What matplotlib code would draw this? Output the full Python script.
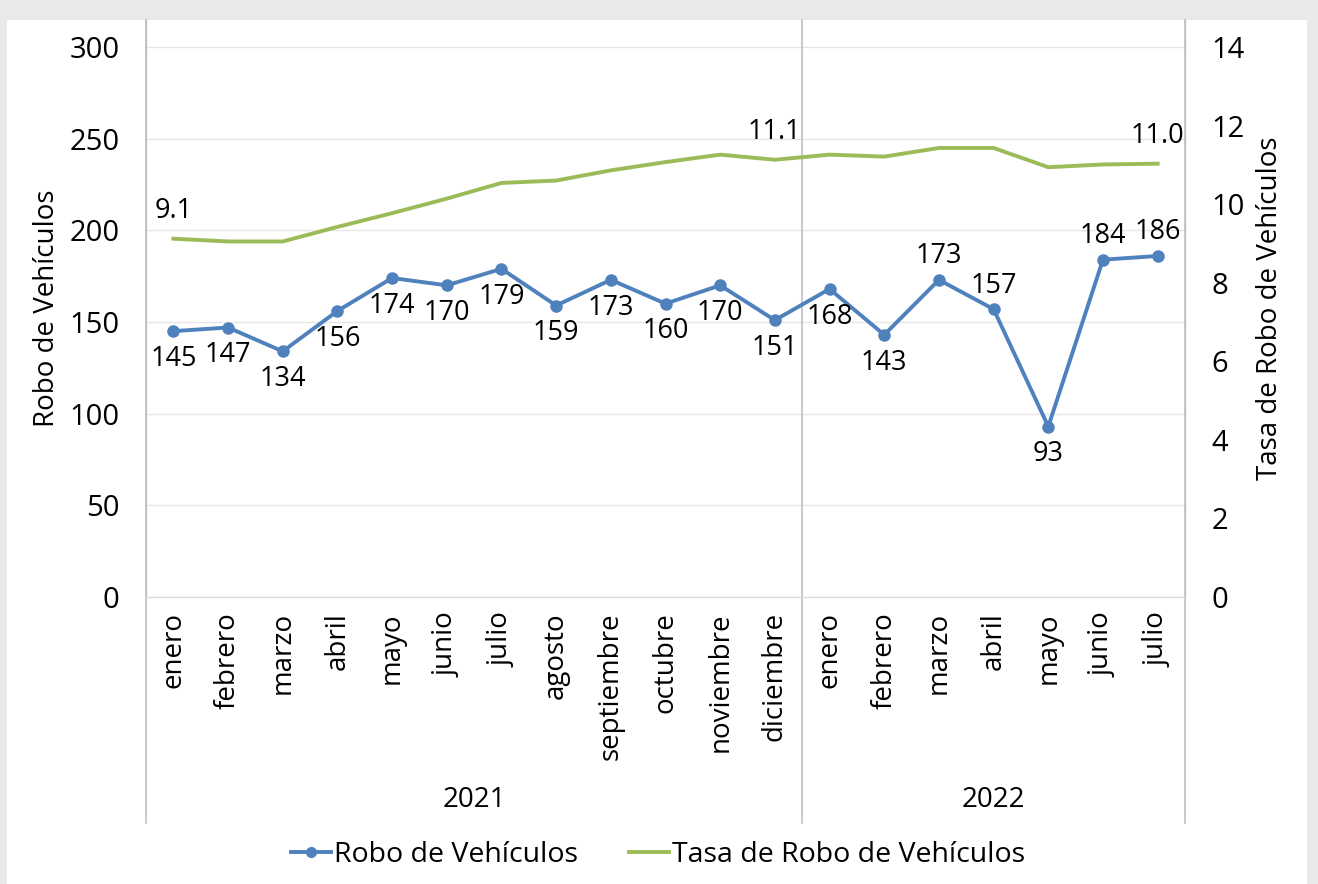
import matplotlib
matplotlib.use("Agg")
import matplotlib.pyplot as plt
from matplotlib.patches import Rectangle
from matplotlib.lines import Line2D
import numpy as np

# Datos.
meses = ["enero", "febrero", "marzo", "abril", "mayo", "junio", "julio",
         "agosto", "septiembre", "octubre", "noviembre", "diciembre",
         "enero", "febrero", "marzo", "abril", "mayo", "junio", "julio"]
anios = ["2021", "2022"]
meses_por_anio = [12, 7]

robo = [145, 147, 134, 156, 174, 170, 179, 159, 173, 160, 170, 151,
        168, 143, 173, 157, 93, 184, 186]
tasa = [9.12, 9.05, 9.05, 9.42, 9.77, 10.14, 10.54, 10.6, 10.86, 11.07,
        11.26, 11.13, 11.26, 11.21, 11.43, 11.43, 10.94, 11.01, 11.03]

# Etiquetas arriba (True) o abajo (False) de cada punto azul.
arriba = [False] * 14 + [True, True, False, True, True]
# Índices de la tasa que llevan etiqueta.
etiquetas_tasa = [0, 11, 18]

plt.rcParams["font.family"] = ["Open Sans", "DejaVu Sans"]
plt.rcParams["font.size"] = 20

azul = "#4F81BD"
verde = "#9BBB59"
gris = "#BFBFBF"

W, H = 1318, 884
fig = plt.figure(figsize=(W / 100, H / 100), dpi=100, facecolor="#E9E9E9")
fig.patches.append(Rectangle((7 / W, 0), 1300 / W, 1 - 20 / H,
                             transform=fig.transFigure, facecolor="white",
                             edgecolor="none", zorder=-5))

x0, x1, ytop, ybot = 146, 1185, 20, 597
ax = fig.add_axes([x0 / W, 1 - ybot / H, (x1 - x0) / W, (ybot - ytop) / H])
ax.set_facecolor("none")
esc = (ybot - ytop) / (ybot - 47)
ax.set_ylim(0, 300 * esc)
ax.set_xlim(-0.5, len(meses) - 0.5)
ax2 = ax.twinx()
ax2.set_facecolor("none")
ax2.set_ylim(0, 14 * esc)

x = np.arange(len(meses))

ax.set_yticks(range(0, 301, 50))
ax2.set_yticks(range(0, 15, 2))
ax.grid(axis="y", color="#E6E6E6", linewidth=1)
ax.set_axisbelow(True)
ax.set_xticks(x)
ax.set_xticklabels(meses, rotation=90)
ax.tick_params(axis="x", length=0, pad=11)
ax.tick_params(axis="y", length=0, pad=19, labelsize=21)
ax2.tick_params(axis="y", length=0, pad=19, labelsize=21)

for a in (ax, ax2):
    a.spines["top"].set_visible(False)
    a.spines["left"].set_color(gris)
    a.spines["right"].set_color(gris)
    a.spines["bottom"].set_color("#D9D9D9")

ax.set_ylabel("Robo de Vehículos", labelpad=6)
ax2.set_ylabel("Tasa de Robo de Vehículos", labelpad=8)

# Líneas de los grupos de años.
ybajo = (ybot - 823) / (ybot - ytop)
trans = ax.get_xaxis_transform()
limites = [-0.5]
for n in meses_por_anio:
    limites.append(limites[-1] + n)
for lim in limites:
    ax.plot([lim, lim], [ybajo, 1], color=gris, linewidth=1.2,
            transform=trans, clip_on=False, zorder=1)
yanio = (ybot - 800) / (ybot - ytop)
for i, anio in enumerate(anios):
    ax.text((limites[i] + limites[i + 1]) / 2, yanio, anio, transform=trans,
            ha="center", va="center")

ax2.plot(x, tasa, color=verde, linewidth=2.8, zorder=3)
ax.plot(x, robo, color=azul, linewidth=2.8, marker="o", markersize=8, zorder=3)

for i, v in enumerate(robo):
    dy = 17 if arriba[i] else -20
    ax.annotate(str(v), (x[i], v), xytext=(0, dy), textcoords="offset points",
                ha="center", va="center", fontsize=19.5)
for i in etiquetas_tasa:
    ax2.annotate(f"{tasa[i]:.1f}", (x[i], tasa[i]),
                 xytext=(0, 20), textcoords="offset points",
                 ha="center", va="center", fontsize=19.5)

handles = [Line2D([], [], color=azul, linewidth=2.8, marker="o", markersize=7),
           Line2D([], [], color=verde, linewidth=2.8)]
fig.legend(handles, ["Robo de Vehículos", "Tasa de Robo de Vehículos"],
           loc="center", bbox_to_anchor=(658 / W, 1 - 855 / H), ncol=2,
           frameon=False, handlelength=1.4, handletextpad=0.1,
           columnspacing=1.8, fontsize=20.5)

fig.savefig("out.png", dpi=100, facecolor=fig.get_facecolor())
